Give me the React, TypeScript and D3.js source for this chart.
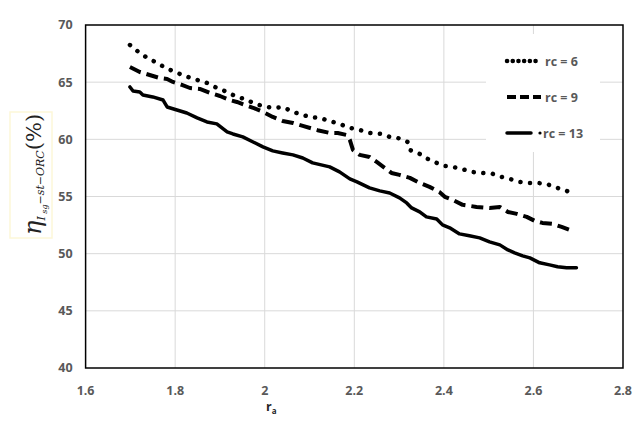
import { useMemo } from 'react';
import * as d3 from 'd3';

type Pt = [number, number];

// r_a values and efficiencies
const rc6: Pt[] = [
  [1.699, 68.25], [1.721, 67.55], [1.739, 67.1], [1.759, 66.7], [1.779, 66.24],
  [1.799, 65.9], [1.822, 65.54], [1.849, 65.2], [1.871, 64.93], [1.893, 64.5],
  [1.916, 64.14], [1.938, 63.7], [1.956, 63.53], [1.978, 63.1], [1.996, 62.92],
  [2.018, 62.74], [2.04, 62.83], [2.063, 62.4], [2.1, 61.96], [2.123, 61.87],
  [2.145, 61.6], [2.167, 61.35], [2.19, 61.0], [2.212, 60.82], [2.234, 60.56],
  [2.261, 60.47], [2.279, 60.21], [2.297, 60.12], [2.319, 59.77], [2.324, 59.07],
  [2.346, 58.72], [2.364, 58.29], [2.384, 57.94], [2.402, 57.67], [2.42, 57.59],
  [2.44, 57.41], [2.462, 57.15], [2.484, 57.06], [2.509, 56.98], [2.529, 56.71],
  [2.547, 56.54], [2.569, 56.28], [2.587, 56.19], [2.609, 56.19], [2.629, 56.1],
  [2.647, 55.84], [2.674, 55.49], [2.694, 55.14],
];

const rc9: Pt[] = [
  [1.699, 66.33], [1.721, 65.89], [1.743, 65.63], [1.765, 65.37], [1.782, 65.28],
  [1.795, 65.02], [1.815, 64.76], [1.833, 64.49], [1.855, 64.41], [1.878, 64.06],
  [1.9, 63.79], [1.922, 63.44], [1.938, 63.27], [1.956, 63.0], [1.974, 62.76],
  [1.996, 62.4], [2.018, 61.96], [2.04, 61.61], [2.063, 61.43], [2.085, 61.17],
  [2.118, 60.8], [2.145, 60.56], [2.163, 60.56], [2.183, 60.38], [2.19, 59.95],
  [2.197, 59.07], [2.212, 58.64], [2.234, 58.46], [2.25, 58.02], [2.268, 57.5],
  [2.283, 57.06], [2.301, 56.89], [2.324, 56.63], [2.346, 56.19], [2.368, 55.84],
  [2.39, 55.4], [2.402, 54.97], [2.42, 54.7], [2.442, 54.27], [2.473, 54.09],
  [2.502, 54.0], [2.525, 54.09], [2.543, 53.65], [2.563, 53.48], [2.585, 53.22],
  [2.603, 52.87], [2.62, 52.69], [2.643, 52.6], [2.663, 52.34], [2.681, 52.08],
  [2.692, 51.99],
];

const rc13: Pt[] = [
  [1.699, 64.58], [1.706, 64.23], [1.721, 64.14], [1.728, 63.88], [1.75, 63.71],
  [1.773, 63.44], [1.782, 62.83], [1.804, 62.57], [1.826, 62.3], [1.849, 61.87],
  [1.871, 61.52], [1.893, 61.35], [1.916, 60.65], [1.929, 60.47], [1.951, 60.21],
  [1.974, 59.77], [1.996, 59.34], [2.018, 58.99], [2.04, 58.81], [2.063, 58.64],
  [2.085, 58.37], [2.107, 57.94], [2.145, 57.59], [2.167, 57.15], [2.19, 56.54],
  [2.206, 56.28], [2.234, 55.75], [2.257, 55.49], [2.279, 55.31], [2.301, 54.88],
  [2.317, 54.44], [2.328, 54.0], [2.346, 53.65], [2.361, 53.22], [2.384, 53.04],
  [2.397, 52.52], [2.413, 52.26], [2.435, 51.73], [2.457, 51.56], [2.48, 51.38],
  [2.502, 51.03], [2.525, 50.77], [2.543, 50.33], [2.558, 50.07], [2.576, 49.81],
  [2.592, 49.63], [2.614, 49.2], [2.636, 49.02], [2.654, 48.85], [2.674, 48.76],
  [2.696, 48.76],
];

const xTicks = [1.6, 1.8, 2.0, 2.2, 2.4, 2.6, 2.8];
const yTicks = [40, 45, 50, 55, 60, 65, 70];
const seriesNames = ['rc = 6', 'rc = 9', 'rc = 13'];

const W = 640;
const H = 424;
const margin = { top: 25, right: 17, bottom: 56, left: 85.6 };
const labelFont = '"Open Sans", "Liberation Sans", sans-serif';
const grey = '#595959';

const styles = [
  { dash: '0.1 9.5', width: 4.5, cap: 'round' as const },
  { dash: '12 6', width: 4, cap: 'butt' as const },
  { dash: '', width: 3.5, cap: 'round' as const },
];

export default function App() {
  const x = useMemo(
    () => d3.scaleLinear().domain([1.6, 2.8]).range([margin.left, W - margin.right]),
    [],
  );
  const y = useMemo(
    () => d3.scaleLinear().domain([40, 70]).range([H - margin.bottom, margin.top]),
    [],
  );
  const line = d3
    .line<Pt>()
    .x((d) => x(d[0]))
    .y((d) => y(d[1]));

  const series = [rc6, rc9, rc13];
  const x0 = x.range()[0];
  const x1 = x.range()[1];
  const y0 = y.range()[0];
  const y1 = y.range()[1];

  return (
    <svg
      width={W}
      height={H}
      style={{ position: 'absolute', left: 0, top: 0, background: '#fff' }}
    >
      <rect x={0} y={0} width={W} height={H} fill="#fff" />

      {/* grid */}
      {xTicks.slice(1, -1).map((t) => (
        <line key={`gx${t}`} x1={x(t)} x2={x(t)} y1={y1} y2={y0} stroke="#d9d9d9" strokeWidth={1} />
      ))}
      {yTicks.slice(1, -1).map((t) => (
        <line key={`gy${t}`} x1={x0} x2={x1} y1={y(t)} y2={y(t)} stroke="#d9d9d9" strokeWidth={1} />
      ))}

      {/* legend background hides the grid */}
      <rect x={486} y={34} width={114} height={118} fill="#fff" />

      {/* frame */}
      <rect x={x0} y={y1} width={x1 - x0} height={y0 - y1} fill="none" stroke="#000" strokeWidth={1.5} />

      {/* tick labels */}
      {yTicks.map((t) => (
        <text
          key={`ty${t}`}
          x={x0 - 13}
          y={y(t)}
          dy="0.35em"
          textAnchor="end"
          fontFamily={labelFont}
          fontWeight="bold"
          fontSize={12.5}
          fill={grey}
        >
          {t}
        </text>
      ))}
      {xTicks.map((t) => (
        <text
          key={`tx${t}`}
          x={x(t)}
          y={y0 + 27}
          textAnchor="middle"
          fontFamily={labelFont}
          fontWeight="bold"
          fontSize={12.5}
          fill={grey}
        >
          {d3.format('~g')(t)}
        </text>
      ))}

      {/* x title */}
      <text x={266} y={411} fontFamily={labelFont} fontWeight="bold" fontSize={12.5} fill="#262626">
        r
        <tspan fontSize={8} dy={3}>a</tspan>
      </text>

      {/* y title */}
      <rect x={10} y={112} width={42} height={126} fill="#fff" stroke="#fdf7d8" strokeWidth={1.5} />
      <g transform="translate(41,235) rotate(-90)">
        <text fontFamily='"DejaVu Serif", "Liberation Serif", serif' fill="#222">
          <tspan fontSize={24} fontStyle="italic">η</tspan>
          <tspan fontSize={11} fontStyle="italic" dy={4}>I</tspan>
          <tspan fontSize={8} fontStyle="italic" dy={2}> sg</tspan>
          <tspan fontSize={11} fontStyle="italic" dy={-3}>−st−ORC</tspan>
          <tspan fontSize={21} dy={-3}>(%)</tspan>
        </text>
      </g>

      {/* series */}
      {series.map((s, i) => (
        <path
          key={seriesNames[i]}
          d={line(s) ?? ''}
          fill="none"
          stroke="#000"
          strokeWidth={styles[i].width}
          strokeDasharray={styles[i].dash}
          strokeLinecap={styles[i].cap}
          strokeLinejoin="round"
        />
      ))}

      {/* legend */}
      {seriesNames.map((name, i) => {
        const ly = 61 + i * 36;
        const len = i === 2 ? 24 : 34;
        return (
          <g key={`lg${name}`}>
            <line
              x1={507}
              x2={507 + len}
              y1={ly}
              y2={ly}
              stroke="#000"
              strokeWidth={styles[i].width}
              strokeDasharray={i === 0 ? '0.1 5.6' : i === 1 ? '9 4' : ''}
              strokeLinecap={styles[i].cap}
            />
            {i === 2 && <circle cx={540} cy={ly} r={1.6} fill="#000" />}
            <text
              x={i === 2 ? 543 : 545}
              y={ly}
              dy="0.36em"
              fontFamily={labelFont}
              fontWeight="bold"
              fontSize={12.5}
              fill={grey}
            >
              {name}
            </text>
          </g>
        );
      })}
    </svg>
  );
}
